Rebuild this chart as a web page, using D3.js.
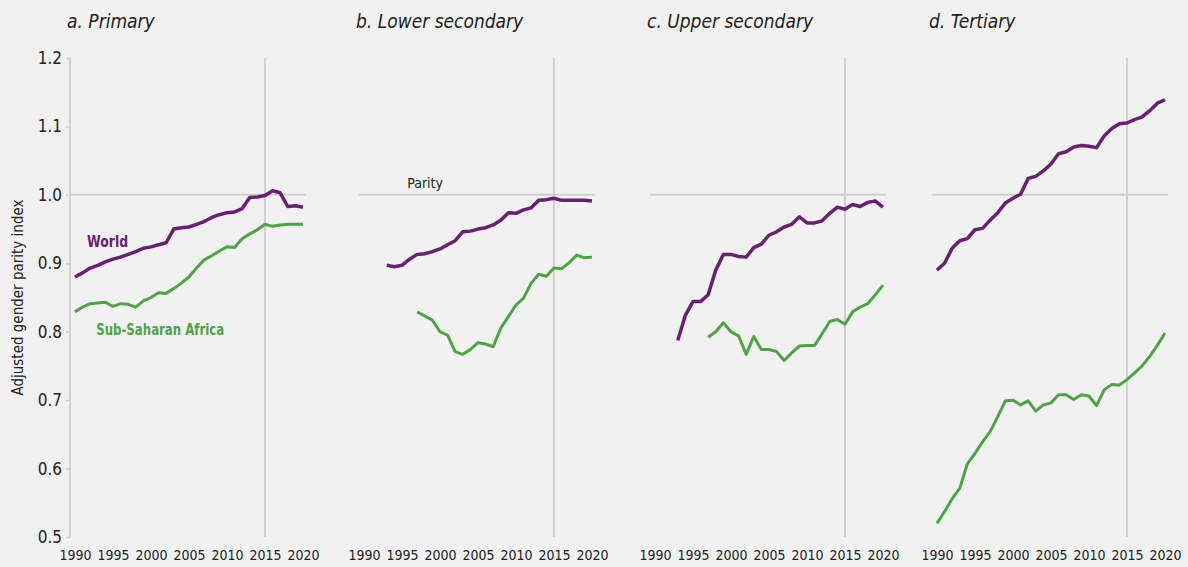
<!DOCTYPE html>
<html>
<head>
<meta charset="utf-8">
<script src="https://cdnjs.cloudflare.com/ajax/libs/d3/7.8.5/d3.min.js"></script>
<style>
    body { margin: 0; background: #f1f1f1; }
    svg { display: block; }
    text { font-family: "DejaVu Sans Condensed", "Liberation Sans Narrow", "Noto Sans", sans-serif; fill: #222; }
</style>
</head>
<body>
<svg id="chart" width="1188" height="567"></svg>
<script>
var years = [1990, 1991, 1992, 1993, 1994, 1995, 1996, 1997, 1998, 1999,
    2000, 2001, 2002, 2003, 2004, 2005, 2006, 2007, 2008, 2009,
    2010, 2011, 2012, 2013, 2014, 2015, 2016, 2017, 2018, 2019, 2020];
var xTicks = [1990, 1995, 2000, 2005, 2010, 2015, 2020];
var yTicks = [0.5, 0.6, 0.7, 0.8, 0.9, 1.0, 1.1, 1.2];
var panelTitles = ["a. Primary", "b. Lower secondary", "c. Upper secondary", "d. Tertiary"];
var seriesNames = ["World", "Sub-Saharan Africa"];

// null = no data for that year
var worldPrimary = [0.880, 0.886, 0.893, 0.897, 0.902, 0.906, 0.909, 0.913, 0.917, 0.922,
    0.924, 0.927, 0.930, 0.950, 0.952, 0.953, 0.957, 0.961, 0.967, 0.971,
    0.974, 0.975, 0.980, 0.996, 0.997, 0.999, 1.006, 1.003, 0.983, 0.984, 0.982];
var ssaPrimary = [0.829, 0.836, 0.841, 0.842, 0.843, 0.837, 0.841, 0.840, 0.836, 0.845,
    0.850, 0.857, 0.856, 0.863, 0.871, 0.880, 0.893, 0.905, 0.911, 0.918,
    0.924, 0.923, 0.936, 0.943, 0.949, 0.957, 0.954, 0.956, 0.957, 0.957, 0.957];
var worldLowerSec = [null, null, null, 0.897, 0.895, 0.897, 0.906, 0.913, 0.914, 0.917,
    0.921, 0.927, 0.933, 0.946, 0.947, 0.950, 0.952, 0.956, 0.963, 0.974,
    0.973, 0.978, 0.981, 0.992, 0.993, 0.995, 0.992, 0.992, 0.992, 0.992, 0.991];
var ssaLowerSec = [null, null, null, null, null, null, null, 0.829, 0.823, 0.817,
    0.800, 0.795, 0.771, 0.767, 0.774, 0.784, 0.782, 0.778, 0.805, 0.822,
    0.839, 0.849, 0.871, 0.884, 0.881, 0.893, 0.892, 0.901, 0.912, 0.908, 0.909];
var worldUpperSec = [null, null, null, 0.787, 0.824, 0.844, 0.844, 0.854, 0.890, 0.913,
    0.913, 0.910, 0.909, 0.923, 0.928, 0.941, 0.946, 0.953, 0.957, 0.968,
    0.959, 0.959, 0.962, 0.973, 0.982, 0.979, 0.986, 0.983, 0.989, 0.991, 0.982];
var ssaUpperSec = [null, null, null, null, null, null, null, 0.792, 0.800, 0.813,
    0.800, 0.794, 0.767, 0.793, 0.774, 0.774, 0.771, 0.758, 0.769, 0.779,
    0.780, 0.780, 0.797, 0.815, 0.818, 0.811, 0.829, 0.836, 0.841, 0.854, 0.868];
var worldTertiary = [0.890, 0.900, 0.922, 0.933, 0.936, 0.949, 0.951, 0.963, 0.974, 0.988,
    0.995, 1.001, 1.024, 1.027, 1.035, 1.045, 1.060, 1.063, 1.070, 1.072,
    1.071, 1.069, 1.086, 1.097, 1.104, 1.105, 1.110, 1.114, 1.123, 1.134, 1.139];
var ssaTertiary = [0.520, 0.537, 0.556, 0.571, 0.607, 0.622, 0.639, 0.654, 0.676, 0.699,
    0.700, 0.693, 0.699, 0.684, 0.693, 0.696, 0.708, 0.708, 0.701, 0.708,
    0.706, 0.692, 0.715, 0.723, 0.722, 0.730, 0.740, 0.750, 0.764, 0.780, 0.798];

var worldSeries = [worldPrimary, worldLowerSec, worldUpperSec, worldTertiary];
var ssaSeries = [ssaPrimary, ssaLowerSec, ssaUpperSec, ssaTertiary];

var colors = { world: "#682070", ssa: "#4ea445" };
var gridColor = "#cfcfcf";

var svg = d3.select("#chart");
var panelLeft = [70, 359, 650, 932];
var panelWidth = 236;
var plotTop = 58, plotBottom = 537;

var y = d3.scaleLinear().domain([0.5, 1.2]).range([plotBottom, plotTop]);

function drawPanel(i) {
    var g = svg.append("g").attr("transform", "translate(" + panelLeft[i] + ",0)");
    var x = d3.scaleLinear().domain([1989.35, 2020.4]).range([0, panelWidth]);

    // parity line and 2015 marker
    g.append("line")
        .attr("x1", 0).attr("x2", panelWidth)
        .attr("y1", y(1.0)).attr("y2", y(1.0))
        .attr("stroke", gridColor).attr("stroke-width", 2);
    g.append("line")
        .attr("x1", x(2015)).attr("x2", x(2015))
        .attr("y1", plotTop).attr("y2", plotBottom)
        .attr("stroke", gridColor).attr("stroke-width", 2);

    // x axis labels
    var xAxis = d3.axisBottom(x).tickValues(xTicks).tickFormat(d3.format("d")).tickSize(0).tickPadding(0);
    var xg = g.append("g").attr("transform", "translate(0," + (plotBottom + 13) + ")").call(xAxis);
    xg.select(".domain").remove();
    xg.selectAll("text").attr("font-size", 14).attr("fill", "#222")
        .attr("font-family", "\"DejaVu Sans Condensed\", sans-serif");

    g.append("text")
        .attr("x", -3).attr("y", 28)
        .attr("font-size", 19).attr("font-style", "italic")
        .text(panelTitles[i]);

    var line = d3.line()
        .defined(function (d) { return d != null; })
        .x(function (d, j) { return x(years[j]); })
        .y(function (d) { return y(d); });

    g.append("path").datum(ssaSeries[i])
        .attr("d", line)
        .attr("fill", "none").attr("stroke", colors.ssa)
        .attr("stroke-width", 3).attr("stroke-linejoin", "round");
    g.append("path").datum(worldSeries[i])
        .attr("d", line)
        .attr("fill", "none").attr("stroke", colors.world)
        .attr("stroke-width", 3.5).attr("stroke-linejoin", "round");

    return { g: g, x: x };
}

var panels = [0, 1, 2, 3].map(drawPanel);

// y axis on the first panel only
var yAxis = d3.axisLeft(y).tickValues(yTicks).tickFormat(d3.format(".1f")).tickSize(4).tickPadding(4);
var yg = svg.append("g").attr("transform", "translate(" + panelLeft[0] + ",0)").call(yAxis);
yg.select(".domain").attr("stroke", gridColor).attr("stroke-width", 2).attr("d", "M0," + plotTop + "V" + plotBottom);
yg.selectAll(".tick line").attr("stroke", gridColor).attr("stroke-width", 1.5);
yg.selectAll("text").attr("font-size", 17).attr("fill", "#222")
    .attr("font-family", "\"DejaVu Sans Condensed\", sans-serif");

svg.append("text")
    .attr("transform", "translate(23," + ((plotTop + plotBottom) / 2) + ") rotate(-90)")
    .attr("text-anchor", "middle")
    .attr("font-size", 15)
    .text("Adjusted gender parity index");

// series labels in panel a
var pa = panels[0];
pa.g.append("text")
    .attr("x", pa.x(1991.6)).attr("y", y(0.92) - 3)
    .attr("font-size", 15).attr("font-weight", "bold")
    .attr("textLength", 41).attr("lengthAdjust", "spacingAndGlyphs")
    .style("fill", colors.world)
    .text(seriesNames[0]);
pa.g.append("text")
    .attr("x", pa.x(1992.8)).attr("y", y(0.79) - 4)
    .attr("font-size", 15).attr("font-weight", "bold")
    .attr("textLength", 128).attr("lengthAdjust", "spacingAndGlyphs")
    .style("fill", colors.ssa)
    .text(seriesNames[1]);

// parity label in panel b
var pb = panels[1];
pb.g.append("text")
    .attr("x", pb.x(1995.7)).attr("y", y(1.0) - 7)
    .attr("font-size", 14)
    .text("Parity");
</script>
</body>
</html>
